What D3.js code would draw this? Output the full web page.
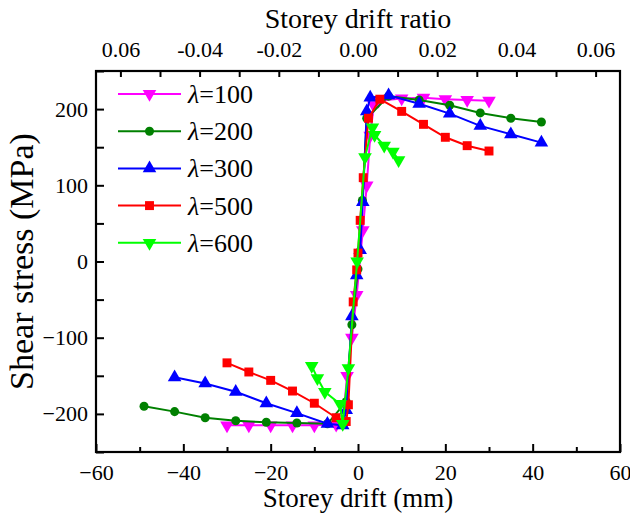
<!DOCTYPE html>
<html>
<head>
<meta charset="utf-8">
<script src="https://cdn.jsdelivr.net/npm/d3@7"></script>
<style>
  body { margin: 0; background: #fff; }
</style>
</head>
<body>
<script>
// SVG size and plot box
const svgWidth = 630;
const svgHeight = 516;
const plot = { left: 96, right: 620, top: 71, bottom: 452 };
const serif = "'Liberation Serif'";

// data (drift in mm, shear stress in MPa)
const drift100 = [-30, -25, -20, -15, -10, -5, -3.5, -2.5, -1.4, -0.3, 1.1, 2, 2.8, 3.6, 4.7, 10, 15, 20, 25, 30];
const stress100 = [-215, -215, -215, -215, -215, -214, -212, -150, -100, -44, 41, 100, 165, 205, 211, 214, 215, 213, 212, 211];

const drift200 = [-49, -42, -35, -28, -21, -14, -7, -2.7, -1.4, 0, 1, 2, 7, 14, 21, 28, 35, 42];
const stress200 = [-190, -197, -205, -209, -211, -212, -213, -184, -83, -10, 80, 188, 217, 212, 205, 195, 188, 183];

const drift300 = [-42, -35, -28, -21, -14, -7, -3.5, -2.7, -1.4, -0.3, 0.5, 1.1, 2, 2.8, 7, 14, 21, 28, 35, 42];
const stress300 = [-152, -160, -171, -186, -199, -213, -215, -195, -72, -18, 15, 78, 197, 215, 218, 207, 194, 178, 167, 156];

const drift500 = [-30, -25, -20, -15, -10, -5, -2.7, -2.2, -1.1, -0.3, 0, 0.5, 1.2, 2.4, 5, 10, 15, 20, 25, 30];
const stress500 = [-133, -145, -156, -170, -186, -205, -210, -188, -53, -11, 11, 54, 110, 188, 213, 197, 180, 163, 152, 145];

const drift600 = [-10.6, -9.3, -7.6, -4.1, -3.5, -2.2, -0.2, 1.6, 3.3, 3.8, 6, 8, 9.3];
const stress600 = [-137, -153, -171, -187, -213, -140, 0, 137, 176, 166, 152, 144, 133];

const seriesNames = ["100", "200", "300", "500", "600"];
const seriesColors = ["#ff00ff", "#008000", "#0000ff", "#ff0000", "#00ff00"];
const seriesSymbols = ["down", "circle", "up", "square", "down"];

// axis ticks
const xTicks = [-60, -40, -20, 0, 20, 40, 60];
const xMinorTicks = [-50, -30, -10, 10, 30, 50];
const yTicks = [-200, -100, 0, 100, 200];
const yMinorTicks = [-250, -150, -50, 50, 150, 250];
const ratioTicks = [-0.06, -0.04, -0.02, 0, 0.02, 0.04, 0.06];
const ratioTickLabels = ["0.06", "-0.04", "-0.02", "0.00", "0.02", "0.04", "0.06"];
const ratioMinorTicks = [-0.05, -0.03, -0.01, 0.01, 0.03, 0.05];

const allSeries = seriesNames.map((name, i) => ({
  name: name,
  color: seriesColors[i],
  symbol: seriesSymbols[i],
  x: [drift100, drift200, drift300, drift500, drift600][i],
  y: [stress100, stress200, stress300, stress500, stress600][i]
}));

const svg = d3.select("body")
  .append("svg")
  .attr("width", svgWidth)
  .attr("height", svgHeight)
  .style("font-family", serif);

// scales
const x = d3.scaleLinear().domain([-60, 60]).range([plot.left, plot.right]);
const y = d3.scaleLinear().domain([-250, 250]).range([plot.bottom, plot.top]);
// top axis: 0.01 ratio is about 39.6 px, zero lines up with 0 mm
const ratioHalf = (plot.right - plot.left) / 2 / 3960;
const xr = d3.scaleLinear().domain([-ratioHalf, ratioHalf]).range([plot.left, plot.right]);

function styleAxis(g) {
  g.attr("font-family", null).style("font-family", serif);
  g.select(".domain").remove();
  g.selectAll("text").attr("font-size", 22).style("font-family", serif).attr("fill", "#000");
}

// bottom axis
svg.append("g")
  .attr("transform", `translate(0,${plot.bottom})`)
  .call(d3.axisBottom(x).tickValues(xTicks).tickSizeInner(-8).tickSizeOuter(0).tickPadding(12))
  .call(styleAxis);
svg.append("g")
  .attr("transform", `translate(0,${plot.bottom})`)
  .call(d3.axisBottom(x).tickValues(xMinorTicks).tickSizeInner(-5).tickSizeOuter(0).tickFormat(""))
  .call(styleAxis);

// left axis
svg.append("g")
  .attr("transform", `translate(${plot.left},0)`)
  .call(d3.axisLeft(y).tickValues(yTicks).tickSizeInner(-8).tickSizeOuter(0).tickPadding(8))
  .call(styleAxis);
svg.append("g")
  .attr("transform", `translate(${plot.left},0)`)
  .call(d3.axisLeft(y).tickValues(yMinorTicks).tickSizeInner(-8).tickSizeOuter(0).tickFormat(""))
  .call(styleAxis);

// top axis (storey drift ratio)
svg.append("g")
  .attr("transform", `translate(0,${plot.top})`)
  .call(d3.axisTop(xr).tickValues(ratioTicks).tickSizeInner(-6).tickSizeOuter(0).tickPadding(14)
    .tickFormat((d, i) => ratioTickLabels[i]))
  .call(styleAxis);
svg.append("g")
  .attr("transform", `translate(0,${plot.top})`)
  .call(d3.axisTop(xr).tickValues(ratioMinorTicks).tickSizeInner(-6).tickSizeOuter(0).tickFormat(""))
  .call(styleAxis);

svg.selectAll(".tick line").attr("stroke", "#000").attr("stroke-width", 2);

// frame
svg.append("rect")
  .attr("x", plot.left)
  .attr("y", plot.top)
  .attr("width", plot.right - plot.left)
  .attr("height", plot.bottom - plot.top)
  .attr("fill", "none")
  .attr("stroke", "#000")
  .attr("stroke-width", 2.2);

// axis titles
svg.append("text")
  .attr("x", (plot.left + plot.right) / 2)
  .attr("y", 507)
  .attr("text-anchor", "middle")
  .attr("font-size", 27)
  .style("font-family", serif)
  .text("Storey drift (mm)");
svg.append("text")
  .attr("x", (plot.left + plot.right) / 2)
  .attr("y", 28)
  .attr("text-anchor", "middle")
  .attr("font-size", 28)
  .style("font-family", serif)
  .text("Storey drift ratio");
svg.append("text")
  .attr("transform", `translate(33,${(plot.top + plot.bottom) / 2}) rotate(-90)`)
  .attr("text-anchor", "middle")
  .attr("font-size", 34)
  .style("font-family", serif)
  .text("Shear stress (MPa)");

// marker shapes
function symbolPath(kind) {
  if (kind === "circle") return d3.symbol(d3.symbolCircle, 64)();
  if (kind === "square") return d3.symbol(d3.symbolSquare, 80)();
  return d3.symbol(d3.symbolTriangle, 80)();
}
function symbolTransform(kind, px, py) {
  if (kind === "down") return `translate(${px},${py}) rotate(180)`;
  return `translate(${px},${py})`;
}

const line = d3.line().x(d => x(d[0])).y(d => y(d[1]));
const curves = svg.append("g");

allSeries.forEach(s => {
  const pts = s.x.map((v, i) => [v, s.y[i]]);
  const g = curves.append("g");
  g.append("path")
    .datum(pts)
    .attr("d", line)
    .attr("fill", "none")
    .attr("stroke", s.color)
    .attr("stroke-width", 2);
  g.selectAll("path.mark")
    .data(pts)
    .enter()
    .append("path")
    .attr("class", "mark")
    .attr("d", symbolPath(s.symbol))
    .attr("transform", d => symbolTransform(s.symbol, x(d[0]), y(d[1])))
    .attr("fill", s.color);
});

// legend
const legend = svg.append("g");
const legendTop = 94;
const legendStep = 37.2;
allSeries.forEach((s, i) => {
  const ly = legendTop + i * legendStep;
  legend.append("line")
    .attr("x1", 118).attr("x2", 181)
    .attr("y1", ly).attr("y2", ly)
    .attr("stroke", s.color)
    .attr("stroke-width", 2);
  legend.append("path")
    .attr("d", symbolPath(s.symbol))
    .attr("transform", symbolTransform(s.symbol, 149.5, ly))
    .attr("fill", s.color);
  const t = legend.append("text")
    .attr("x", 188)
    .attr("y", ly + 9)
    .attr("font-size", 26)
    .style("font-family", serif);
  t.append("tspan").attr("font-style", "italic").text("λ");
  t.append("tspan").text("=" + s.name);
});
</script>
</body>
</html>
